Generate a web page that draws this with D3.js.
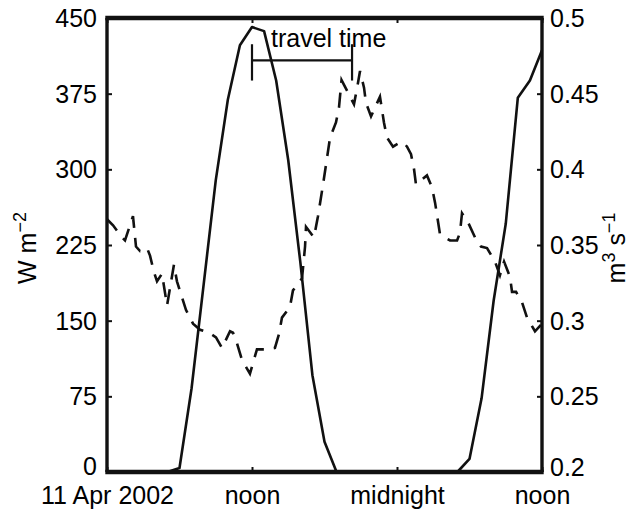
<!DOCTYPE html>
<html>
<head>
<meta charset="utf-8">
<script src="https://cdn.jsdelivr.net/npm/d3@7"></script>
<style>
  body { margin: 0; background: #fff; }
  text { font-family: "Liberation Sans", Arial, Helvetica, sans-serif; font-size: 25px; fill: #000; }
</style>
</head>
<body>
<svg id="chart"></svg>
<script>
// hours since 11 Apr 2002 00:00
const xTickHours = [0, 12, 24, 36];
const xTickLabels = ['11 Apr 2002', 'noon', 'midnight', 'noon'];

// solar radiation, W m^-2, hourly
const solarHours = d3.range(0, 37);
const solarValues = [0, 0, 0, 0, 0, 0, 4, 83, 186, 289, 369, 423, 441, 437, 388, 309, 208, 96, 30, 0,
    0, 0, 0, 0, 0, 0, 0, 0, 0, 0, 13, 73, 170, 246, 371, 388, 418];

// discharge, m^3 s^-1
const flowHours = [0, 0.5, 1.24, 1.49, 2.15, 2.4, 2.73, 3.31, 3.56, 3.89, 4.14, 4.55, 4.97, 5.54, 5.79,
    6.54, 7.12, 7.7, 8.44, 9.02, 9.52, 10.18, 10.43, 10.76, 11.17, 11.83, 12.41, 13.16, 13.9, 14.23,
    14.48, 15.14, 15.39, 16.14, 16.39, 16.47, 17.13, 17.46, 17.88, 18.46, 18.95, 19.2, 19.41, 20.44,
    20.77, 20.94, 21.27, 21.43, 21.85, 22.59, 22.92, 23.17, 23.67, 24.08, 24.5, 24.83, 25.16, 25.41,
    25.57, 26.48, 26.9, 27.15, 27.56, 28.39, 28.97, 29.21, 29.38, 29.88, 30.46, 30.95, 31.45, 32.11,
    32.52, 32.86, 33.35, 33.52, 33.85, 34.35, 34.76, 35.42, 36];
const flowValues = [0.367, 0.363, 0.355, 0.353, 0.369, 0.349, 0.346, 0.348, 0.343, 0.332, 0.326, 0.331,
    0.310, 0.337, 0.326, 0.307, 0.298, 0.294, 0.292, 0.289, 0.282, 0.293, 0.292, 0.285, 0.274, 0.265,
    0.281, 0.281, 0.282, 0.291, 0.302, 0.309, 0.320, 0.328, 0.349, 0.362, 0.355, 0.369, 0.390, 0.421,
    0.431, 0.441, 0.459, 0.443, 0.457, 0.465, 0.454, 0.444, 0.435, 0.448, 0.431, 0.421, 0.415, 0.417,
    0.418, 0.415, 0.410, 0.400, 0.390, 0.396, 0.388, 0.378, 0.357, 0.353, 0.353, 0.358, 0.371, 0.365,
    0.355, 0.349, 0.348, 0.339, 0.330, 0.339, 0.329, 0.319, 0.319, 0.312, 0.302, 0.293, 0.298];

const leftTicks = [0, 75, 150, 225, 300, 375, 450];
const rightTicks = [0.2, 0.25, 0.3, 0.35, 0.4, 0.45, 0.5];

// "travel time" bracket: solar peak -> discharge peak
const travelHours = [12, 20.28];
const travelLevel = 408;      // W m^-2, bracket line
const travelBar = [388, 424]; // W m^-2, bar extent

const width = 641, height = 510;
const margin = { top: 18, right: 99, bottom: 38, left: 107 };
const w = width - margin.left - margin.right;
const h = height - margin.top - margin.bottom;

const svg = d3.select('#chart').attr('width', width).attr('height', height);
const g = svg.append('g').attr('transform', `translate(${margin.left},${margin.top})`);

const x = d3.scaleLinear().domain([0, 36]).range([0, w]);
const yL = d3.scaleLinear().domain([0, 450]).range([h, 0]);
const yR = d3.scaleLinear().domain([0.2, 0.5]).range([h, 0]);

// lines
const solarLine = d3.line().x((d, i) => x(solarHours[i])).y(d => yL(d));
g.append('path')
    .datum(solarValues)
    .attr('d', solarLine)
    .attr('fill', 'none')
    .attr('stroke', '#111')
    .attr('stroke-width', 2.6)
    .attr('stroke-linejoin', 'round');

const flowLine = d3.line().x((d, i) => x(flowHours[i])).y(d => yR(d));
g.append('path')
    .datum(flowValues)
    .attr('d', flowLine)
    .attr('fill', 'none')
    .attr('stroke', '#111')
    .attr('stroke-width', 2.6)
    .attr('stroke-dasharray', '15,10');

// axes, ticks pointing inwards
const leftAxis = d3.axisLeft(yL).tickValues(leftTicks).tickSize(-5).tickPadding(10).tickFormat(d3.format('d'));
const rightAxis = d3.axisRight(yR).tickValues(rightTicks).tickSize(-5).tickPadding(8).tickFormat(d => String(+d.toFixed(2)));
const bottomAxis = d3.axisBottom(x).tickValues(xTickHours).tickSize(-5).tickPadding(14).tickFormat((d, i) => xTickLabels[i]);
const topAxis = d3.axisTop(x).tickValues(xTickHours).tickSize(-5).tickFormat('');

const gl = g.append('g').call(leftAxis);
const gr = g.append('g').attr('transform', `translate(${w},0)`).call(rightAxis);
const gb = g.append('g').attr('transform', `translate(0,${h})`).call(bottomAxis);
const gt = g.append('g').call(topAxis);

[gl, gr, gb, gt].forEach(a => {
    a.select('.domain').remove();
    a.selectAll('.tick line').attr('stroke', '#111').attr('stroke-width', 2);
    a.selectAll('text').attr('font-size', 25).attr('fill', '#000')
        .attr('font-family', '"Liberation Sans", Arial, Helvetica, sans-serif');
});
gl.selectAll('text').attr('dy', '0.34em');
gr.selectAll('text').attr('dy', '0.34em');
gb.selectAll('text').attr('dy', '0.71em');
// lowest labels sit slightly higher so they clear the date row
gl.selectAll('.tick').filter(d => d === 0).select('text').attr('dy', '0.1em');
gr.selectAll('.tick').filter(d => d === 0.2).select('text').attr('dy', '0.14em');

// box
g.append('line').attr('x1', 0).attr('x2', 0).attr('y1', 0).attr('y2', h).attr('stroke', '#111').attr('stroke-width', 3.4);
g.append('line').attr('x1', w).attr('x2', w).attr('y1', 0).attr('y2', h).attr('stroke', '#111').attr('stroke-width', 3.4);
g.append('line').attr('x1', -1.7).attr('x2', w + 1.7).attr('y1', 0).attr('y2', 0).attr('stroke', '#111').attr('stroke-width', 4.6);
g.append('line').attr('x1', -1.7).attr('x2', w + 1.7).attr('y1', h).attr('y2', h).attr('stroke', '#111').attr('stroke-width', 4.6);

// travel time annotation
const ann = g.append('g').attr('stroke', '#111').attr('stroke-width', 2.2);
ann.append('line')
    .attr('x1', x(travelHours[0])).attr('x2', x(travelHours[1]))
    .attr('y1', yL(travelLevel)).attr('y2', yL(travelLevel));
travelHours.forEach(t => {
    ann.append('line')
        .attr('x1', x(t)).attr('x2', x(t))
        .attr('y1', yL(travelBar[0])).attr('y2', yL(travelBar[1]));
});
g.append('text')
    .attr('x', x(travelHours[0]) + 19)
    .attr('y', yL(travelLevel) - 13)
    .text('travel time');

// axis titles
const lt = svg.append('text')
    .attr('transform', `translate(36,${margin.top + h / 2 + 3}) rotate(-90)`)
    .attr('text-anchor', 'middle');
lt.append('tspan').text('W m');
lt.append('tspan').attr('dy', -10).attr('font-size', 18).text('−2');

const rt = svg.append('text')
    .attr('transform', `translate(625,${margin.top + h / 2 + 3}) rotate(-90)`)
    .attr('text-anchor', 'middle');
rt.append('tspan').text('m');
rt.append('tspan').attr('dy', -10).attr('font-size', 18).text('3');
rt.append('tspan').attr('dy', 10).text(' s');
rt.append('tspan').attr('dy', -10).attr('font-size', 18).text('−1');
</script>
</body>
</html>
